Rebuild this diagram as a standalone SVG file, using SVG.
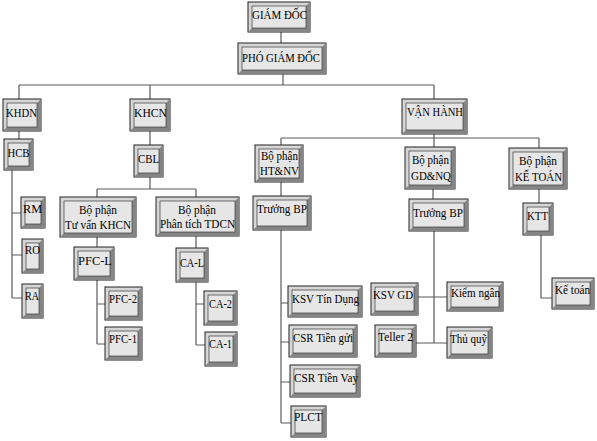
<svg xmlns="http://www.w3.org/2000/svg" width="597" height="441" viewBox="0 0 597 441">
<style>
.bv{fill:#d6d6d6;stroke:#222;stroke-width:1}
.sh{fill:#858585}
.fc{fill:#e6e6e6;stroke:#3a3a3a;stroke-width:0.7}
.t{font-family:"Liberation Serif","Times New Roman",serif;font-size:12px;fill:#000;text-anchor:middle}
.c{stroke:#5a5a5a;stroke-width:1.2;fill:none}
</style>
<rect width="597" height="441" fill="#fff"/>
<g id="connectors" class="c">
<path d="M281,32V43 M283,74V85 M19,85H434 M19,85V99 M150,85V99 M434,85V99"/>
<path d="M19,131V139 M12,170V298 M12,213H21 M12,255H22 M12,298H22"/>
<path d="M150,131V145 M150,177V189 M97,189H196 M97,189V197 M196,189V197"/>
<path d="M97,237V247 M97,280V344 M97,304H105 M97,344H105"/>
<path d="M196,236V248 M196,282V345 M196,304H204 M196,345H205"/>
<path d="M434,134V147 M281,138H539 M281,138V145 M539,138V148"/>
<path d="M281,182V196 M281,230V423 M281,303H288 M281,342H289 M281,382H290 M281,423H291"/>
<path d="M433,189V199 M434,231V343 M418,297H447 M416,343H447"/>
<path d="M539,189V203 M541,235V298H552"/>
</g>
<g id="giam-doc"><rect class="bv" x="248" y="2" width="62" height="30"/><polygon class="sh" points="310,2 310,32 248,32 252,28 306,28 306,6"/><rect class="fc" x="252" y="6" width="54" height="22"/><text class="t" x="279.5" y="19" textLength="55" lengthAdjust="spacingAndGlyphs">GIÁM ĐỐC</text></g>
<g id="pho-giam-doc"><rect class="bv" x="238" y="43" width="88" height="31"/><polygon class="sh" points="326,43 326,74 238,74 242,70 322,70 322,47"/><rect class="fc" x="242" y="47" width="80" height="23"/><text class="t" x="281" y="62" textLength="78" lengthAdjust="spacingAndGlyphs">PHÓ GIÁM ĐỐC</text></g>
<g id="khdn"><rect class="bv" x="3" y="99" width="38" height="32"/><polygon class="sh" points="41,99 41,131 3,131 7,127 37,127 37,103"/><rect class="fc" x="7" y="103" width="30" height="24"/><text class="t" x="21.5" y="117" textLength="31" lengthAdjust="spacingAndGlyphs">KHDN</text></g>
<g id="hcb"><rect class="bv" x="4" y="139" width="29" height="31"/><polygon class="sh" points="33,139 33,170 4,170 8,166 29,166 29,143"/><rect class="fc" x="8" y="143" width="21" height="23"/><text class="t" x="18.5" y="157" textLength="22" lengthAdjust="spacingAndGlyphs">HCB</text></g>
<g id="rm"><rect class="bv" x="21" y="197" width="24" height="31"/><polygon class="sh" points="45,197 45,228 21,228 25,224 41,224 41,201"/><rect class="fc" x="25" y="201" width="16" height="23"/><text class="t" x="32.5" y="213" textLength="19" lengthAdjust="spacingAndGlyphs">RM</text></g>
<g id="ro"><rect class="bv" x="22" y="239" width="21" height="34"/><polygon class="sh" points="43,239 43,273 22,273 26,269 39,269 39,243"/><rect class="fc" x="26" y="243" width="13" height="26"/><text class="t" x="32.5" y="254" textLength="15" lengthAdjust="spacingAndGlyphs">RO</text></g>
<g id="ra"><rect class="bv" x="22" y="284" width="21" height="34"/><polygon class="sh" points="43,284 43,318 22,318 26,314 39,314 39,288"/><rect class="fc" x="26" y="288" width="13" height="26"/><text class="t" x="32" y="300" textLength="14" lengthAdjust="spacingAndGlyphs">RA</text></g>
<g id="khcn"><rect class="bv" x="130" y="99" width="40" height="32"/><polygon class="sh" points="170,99 170,131 130,131 134,127 166,127 166,103"/><rect class="fc" x="134" y="103" width="32" height="24"/><text class="t" x="150.5" y="117" textLength="33" lengthAdjust="spacingAndGlyphs">KHCN</text></g>
<g id="cbl"><rect class="bv" x="134" y="145" width="29" height="32"/><polygon class="sh" points="163,145 163,177 134,177 138,173 159,173 159,149"/><rect class="fc" x="138" y="149" width="21" height="24"/><text class="t" x="148.5" y="163" textLength="21" lengthAdjust="spacingAndGlyphs">CBL</text></g>
<g id="bp-tu-van"><rect class="bv" x="60" y="197" width="76" height="40"/><polygon class="sh" points="136,197 136,237 60,237 64,233 132,233 132,201"/><rect class="fc" x="64" y="201" width="68" height="32"/><text class="t" x="98" y="214" textLength="38" lengthAdjust="spacingAndGlyphs">Bộ phận</text><text class="t" x="98" y="229" textLength="66" lengthAdjust="spacingAndGlyphs">Tư vấn KHCN</text></g>
<g id="bp-phan-tich"><rect class="bv" x="156" y="197" width="83" height="39"/><polygon class="sh" points="239,197 239,236 156,236 160,232 235,232 235,201"/><rect class="fc" x="160" y="201" width="75" height="31"/><text class="t" x="197" y="214" textLength="38" lengthAdjust="spacingAndGlyphs">Bộ phận</text><text class="t" x="197.5" y="228" textLength="75" lengthAdjust="spacingAndGlyphs">Phân tích TDCN</text></g>
<g id="pfc-l"><rect class="bv" x="74" y="247" width="40" height="33"/><polygon class="sh" points="114,247 114,280 74,280 78,276 110,276 110,251"/><rect class="fc" x="78" y="251" width="32" height="25"/><text class="t" x="95" y="265" textLength="34" lengthAdjust="spacingAndGlyphs">PFC-L</text></g>
<g id="pfc-2"><rect class="bv" x="105" y="287" width="37" height="33"/><polygon class="sh" points="142,287 142,320 105,320 109,316 138,316 138,291"/><rect class="fc" x="109" y="291" width="29" height="25"/><text class="t" x="123" y="303" textLength="28" lengthAdjust="spacingAndGlyphs">PFC-2</text></g>
<g id="pfc-1"><rect class="bv" x="105" y="327" width="37" height="33"/><polygon class="sh" points="142,327 142,360 105,360 109,356 138,356 138,331"/><rect class="fc" x="109" y="331" width="29" height="25"/><text class="t" x="123" y="343" textLength="28" lengthAdjust="spacingAndGlyphs">PFC-1</text></g>
<g id="ca-l"><rect class="bv" x="176" y="248" width="32" height="34"/><polygon class="sh" points="208,248 208,282 176,282 180,278 204,278 204,252"/><rect class="fc" x="180" y="252" width="24" height="26"/><text class="t" x="192" y="267" textLength="24" lengthAdjust="spacingAndGlyphs">CA-L</text></g>
<g id="ca-2"><rect class="bv" x="204" y="291" width="33" height="34"/><polygon class="sh" points="237,291 237,325 204,325 208,321 233,321 233,295"/><rect class="fc" x="208" y="295" width="25" height="26"/><text class="t" x="220.5" y="308" textLength="23" lengthAdjust="spacingAndGlyphs">CA-2</text></g>
<g id="ca-1"><rect class="bv" x="205" y="332" width="32" height="34"/><polygon class="sh" points="237,332 237,366 205,366 209,362 233,362 233,336"/><rect class="fc" x="209" y="336" width="24" height="26"/><text class="t" x="220.5" y="348" textLength="23" lengthAdjust="spacingAndGlyphs">CA-1</text></g>
<g id="van-hanh"><rect class="bv" x="402" y="99" width="65" height="35"/><polygon class="sh" points="467,99 467,134 402,134 406,130 463,130 463,103"/><rect class="fc" x="406" y="103" width="57" height="27"/><text class="t" x="435" y="116" textLength="56" lengthAdjust="spacingAndGlyphs">VẬN HÀNH</text></g>
<g id="bp-htnv"><rect class="bv" x="255" y="145" width="48" height="37"/><polygon class="sh" points="303,145 303,182 255,182 259,178 299,178 299,149"/><rect class="fc" x="259" y="149" width="40" height="29"/><text class="t" x="279.5" y="160" textLength="37" lengthAdjust="spacingAndGlyphs">Bộ phận</text><text class="t" x="279.5" y="175" textLength="39" lengthAdjust="spacingAndGlyphs">HT&amp;NV</text></g>
<g id="bp-gdnq"><rect class="bv" x="405" y="147" width="50" height="42"/><polygon class="sh" points="455,147 455,189 405,189 409,185 451,185 451,151"/><rect class="fc" x="409" y="151" width="42" height="34"/><text class="t" x="430.5" y="164" textLength="37" lengthAdjust="spacingAndGlyphs">Bộ phận</text><text class="t" x="431" y="180" textLength="40" lengthAdjust="spacingAndGlyphs">GD&amp;NQ</text></g>
<g id="bp-ke-toan"><rect class="bv" x="509" y="148" width="58" height="41"/><polygon class="sh" points="567,148 567,189 509,189 513,185 563,185 563,152"/><rect class="fc" x="513" y="152" width="50" height="33"/><text class="t" x="538" y="165" textLength="38" lengthAdjust="spacingAndGlyphs">Bộ phận</text><text class="t" x="538.5" y="181" textLength="47" lengthAdjust="spacingAndGlyphs">KẾ TOÁN</text></g>
<g id="truong-bp-1"><rect class="bv" x="253" y="196" width="58" height="34"/><polygon class="sh" points="311,196 311,230 253,230 257,226 307,226 307,200"/><rect class="fc" x="257" y="200" width="50" height="26"/><text class="t" x="282" y="213" textLength="50" lengthAdjust="spacingAndGlyphs">Trưởng BP</text></g>
<g id="truong-bp-2"><rect class="bv" x="409" y="199" width="59" height="32"/><polygon class="sh" points="468,199 468,231 409,231 413,227 464,227 464,203"/><rect class="fc" x="413" y="203" width="51" height="24"/><text class="t" x="438" y="217" textLength="50" lengthAdjust="spacingAndGlyphs">Trưởng BP</text></g>
<g id="ktt"><rect class="bv" x="523" y="203" width="30" height="32"/><polygon class="sh" points="553,203 553,235 523,235 527,231 549,231 549,207"/><rect class="fc" x="527" y="207" width="22" height="24"/><text class="t" x="537.5" y="220" textLength="21" lengthAdjust="spacingAndGlyphs">KTT</text></g>
<g id="ksv-tin-dung"><rect class="bv" x="288" y="286" width="74" height="31"/><polygon class="sh" points="362,286 362,317 288,317 292,313 358,313 358,290"/><rect class="fc" x="292" y="290" width="66" height="23"/><text class="t" x="325.5" y="303" textLength="67" lengthAdjust="spacingAndGlyphs">KSV Tín Dụng</text></g>
<g id="csr-tien-gui"><rect class="bv" x="289" y="325" width="68" height="32"/><polygon class="sh" points="357,325 357,357 289,357 293,353 353,353 353,329"/><rect class="fc" x="293" y="329" width="60" height="24"/><text class="t" x="323" y="342" textLength="60" lengthAdjust="spacingAndGlyphs">CSR Tiền gửi</text></g>
<g id="csr-tien-vay"><rect class="bv" x="290" y="365" width="70" height="32"/><polygon class="sh" points="360,365 360,397 290,397 294,393 356,393 356,369"/><rect class="fc" x="294" y="369" width="62" height="24"/><text class="t" x="326" y="382" textLength="64" lengthAdjust="spacingAndGlyphs">CSR Tiền Vay</text></g>
<g id="plct"><rect class="bv" x="291" y="406" width="35" height="31"/><polygon class="sh" points="326,406 326,437 291,437 295,433 322,433 322,410"/><rect class="fc" x="295" y="410" width="27" height="23"/><text class="t" x="308" y="421" textLength="28" lengthAdjust="spacingAndGlyphs">PLCT</text></g>
<g id="ksv-gd"><rect class="bv" x="371" y="283" width="47" height="32"/><polygon class="sh" points="418,283 418,315 371,315 375,311 414,311 414,287"/><rect class="fc" x="375" y="287" width="39" height="24"/><text class="t" x="393" y="299" textLength="40" lengthAdjust="spacingAndGlyphs">KSV GD</text></g>
<g id="kiem-ngan"><rect class="bv" x="447" y="282" width="56" height="29"/><polygon class="sh" points="503,282 503,311 447,311 451,307 499,307 499,286"/><rect class="fc" x="451" y="286" width="48" height="21"/><text class="t" x="475.5" y="297" textLength="49" lengthAdjust="spacingAndGlyphs">Kiểm ngân</text></g>
<g id="teller-2"><rect class="bv" x="375" y="325" width="41" height="32"/><polygon class="sh" points="416,325 416,357 375,357 379,353 412,353 412,329"/><rect class="fc" x="379" y="329" width="33" height="24"/><text class="t" x="395.5" y="341" textLength="35" lengthAdjust="spacingAndGlyphs">Teller 2</text></g>
<g id="thu-quy"><rect class="bv" x="447" y="327" width="45" height="31"/><polygon class="sh" points="492,327 492,358 447,358 451,354 488,354 488,331"/><rect class="fc" x="451" y="331" width="37" height="23"/><text class="t" x="468.5" y="343" textLength="37" lengthAdjust="spacingAndGlyphs">Thủ quỹ</text></g>
<g id="ke-toan"><rect class="bv" x="552" y="278" width="42" height="31"/><polygon class="sh" points="594,278 594,309 552,309 556,305 590,305 590,282"/><rect class="fc" x="556" y="282" width="34" height="23"/><text class="t" x="572.5" y="294" textLength="35" lengthAdjust="spacingAndGlyphs">Kế toán</text></g>
</svg>
